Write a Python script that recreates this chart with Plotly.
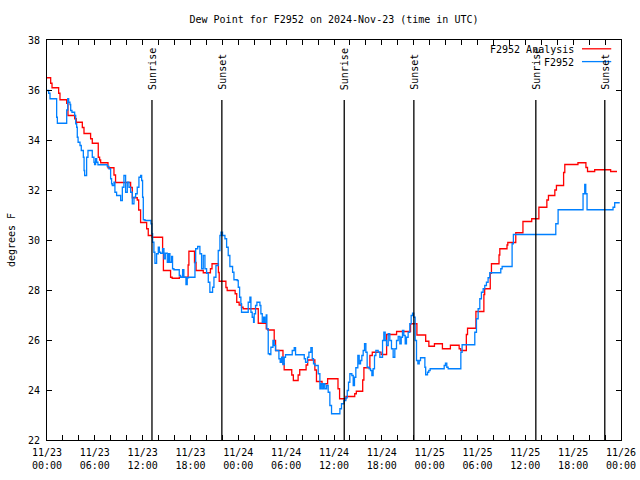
import pandas as pd
import plotly.graph_objects as go

START = pd.Timestamp("2024-11-23 00:00")

# F2952 Analysis (red) : hours since 11/23 00:00 UTC, dew point (F)
red_hours = [0.0, 0.46, 0.63, 1.46, 1.63, 2.47, 2.63, 3.47, 3.67, 4.43, 4.64, 5.47, 5.68, 6.43, 6.6,
             6.73, 7.65, 8.4, 8.6, 10.49, 10.7, 11.32, 11.5, 11.74, 12.5, 12.7, 13.2, 14.5, 14.6, 15.5,
             15.7, 16.6, 17.7, 17.8, 18.5, 18.7, 19.6, 20.5, 20.7, 21.5, 21.6, 22.44, 22.6, 23.6, 23.8,
             24.1, 24.4, 24.6, 26.5, 27.5, 27.7, 28.5, 28.67, 29.6, 29.75, 30.7, 30.9, 31.5, 31.7, 32.5,
             32.7, 33.6, 33.8, 34.5, 35.2, 36.5, 36.7, 37.5, 38.6, 38.8, 39.6, 39.75, 40.5, 40.8, 41.9,
             42.6, 43.85, 45.6, 46.4, 47.5, 47.9, 48.6, 49.6, 50.6, 51.7, 51.9, 52.6, 52.75, 53.8, 54.8,
             54.9, 55.6, 55.75, 56.7, 56.8, 57.7, 57.8, 58.8, 59.7, 60.8, 61.7, 62.7, 62.9, 63.7, 63.9,
             64.8, 64.95, 66.6, 67.6, 67.8, 68.7, 70.7, 71.5]
red_values = [36.49, 36.27, 36.09, 35.87, 35.61, 35.47, 34.98, 34.85, 34.71, 34.5, 34.26, 34.05, 33.87, 33.31, 33.2,
              33.09, 32.89, 32.6, 32.3, 32.1, 31.69, 31.6, 31.2, 30.7, 30.45, 30.18, 30.11, 29.5, 28.78, 28.51,
              28.47, 28.51, 29.0, 29.55, 29.1, 28.78, 28.69, 28.85, 29.05, 28.7, 28.35, 28.1, 27.98, 27.85, 27.51,
              27.4, 27.31, 27.25, 26.67, 26.45, 26.4, 25.98, 25.58, 25.05, 24.81, 24.6, 24.38, 24.6, 24.81, 25.0,
              25.2, 24.8, 24.34, 24.25, 24.45, 24.05, 23.65, 23.74, 23.85, 23.95, 24.4, 24.89, 25.38, 25.51, 25.42,
              26.22, 26.34, 26.65, 26.2, 25.95, 25.75, 25.85, 25.65, 25.79, 25.65, 25.58, 26.22, 26.47, 27.14, 27.82,
              28.05, 28.67, 29.05, 29.4, 29.65, 29.8, 29.9, 30.29, 30.74, 30.85, 31.31, 31.6, 31.78, 32.0, 32.18,
              32.7, 33.02, 33.09, 32.9, 32.74, 32.81, 32.74, 32.74]

# F2952 observations (blue)
blue_hours = [0.0, 0.21, 0.38, 1.21, 1.3, 2.47, 2.6, 2.72, 2.88, 2.97, 3.13, 3.47, 3.6, 3.72, 3.8, 3.9, 4.14,
              4.3, 4.56, 4.65, 4.72, 4.97, 5.14, 5.68, 5.89, 5.97, 6.1, 6.23, 6.39, 7.56, 7.77, 7.98, 8.1, 8.19,
              8.4, 8.52, 8.73, 9.24, 9.45, 9.65, 9.86, 10.07, 10.28, 10.49, 10.7, 10.91, 11.12, 11.32, 11.53,
              11.74, 11.87, 11.99, 12.08, 12.29, 13.04, 13.15, 13.25, 13.41, 13.54, 13.75, 13.96, 14.09, 14.25,
              14.5, 14.67, 14.84, 15.09, 15.26, 15.42, 15.63, 15.75, 15.92, 16.59, 16.76, 17.01, 17.17, 17.43,
              17.59, 17.76, 18.56, 18.65, 18.9, 19.18, 19.39, 19.6, 19.81, 20.02, 20.23, 20.43, 20.77, 20.94,
              21.19, 21.48, 21.69, 21.82, 22.02, 22.32, 22.53, 22.73, 22.94, 23.28, 23.45, 23.86, 23.99, 24.16,
              24.32, 24.4, 25.24, 25.45, 25.58, 25.74, 25.91, 25.99, 26.16, 26.33, 26.71, 26.83, 27.0, 27.17,
              27.33, 27.5, 27.58, 27.75, 27.92, 28.08, 28.34, 28.5, 28.67, 29.09, 29.25, 29.42, 29.59, 29.76,
              29.92, 30.76, 31.01, 31.18, 32.27, 32.43, 32.68, 32.85, 33.1, 33.27, 33.43, 33.6, 34.02, 34.23,
              34.35, 34.52, 34.69, 34.86, 35.07, 35.27, 35.48, 35.69, 36.74, 36.94, 37.24, 37.49, 37.66, 37.82,
              37.99, 38.24, 38.41, 38.57, 38.74, 38.99, 39.16, 39.33, 39.49, 39.66, 39.83, 40.0, 40.16, 40.41,
              40.58, 40.75, 40.91, 41.08, 41.25, 41.54, 41.75, 42.09, 42.25, 42.42, 42.59, 42.8, 43.0, 43.21,
              43.42, 43.63, 43.84, 44.05, 44.26, 44.43, 44.59, 44.76, 44.93, 45.09, 45.3, 45.51, 45.68, 45.85,
              46.01, 46.18, 46.35, 46.52, 46.69, 46.85, 47.4, 47.5, 47.73, 47.89, 48.06, 49.82, 49.98, 50.15,
              50.32, 51.91, 52.07, 53.66, 53.87, 54.08, 54.29, 54.49, 54.71, 54.91, 55.12, 55.33, 55.54, 56.92,
              57.09, 58.34, 58.5, 63.82, 64.11, 67.24, 67.45, 67.58, 67.74, 71.0, 71.21, 71.84]
blue_values = [35.98, 35.87, 35.65, 34.91, 34.67, 35.2, 35.65, 35.51, 35.42, 35.18, 35.11, 34.98, 34.65, 34.51, 34.11, 33.91, 33.78,
               33.58, 33.31, 32.78, 32.58, 33.31, 33.58, 33.31, 33.11, 33.02, 33.25, 33.11, 33.01, 32.94, 32.85, 32.45, 32.25, 32.18,
               32.31, 31.91, 31.78, 31.58, 32.11, 32.58, 31.91, 32.31, 32.11, 31.91, 31.45, 31.71, 31.85, 32.11, 32.51,
               32.58, 32.38, 31.71, 30.81, 30.78, 30.65, 30.25, 29.91, 29.51, 29.07, 29.45, 29.71, 29.51, 29.47,
               29.65, 29.25, 29.47, 29.11, 29.45, 29.11, 29.34, 28.85, 28.81, 28.58, 28.51, 28.81, 28.51, 28.22,
               28.49, 28.51, 29.1, 29.65, 29.74, 29.45, 28.85, 29.38, 28.85, 28.67, 28.31, 27.91, 28.11, 28.51,
               28.98, 29.58, 30.18, 30.31, 30.18, 30.05, 29.71, 29.38, 28.94, 28.71, 28.41, 28.38, 28.11, 27.71,
               27.45, 27.11, 27.51, 27.71, 27.11, 26.91, 26.71, 27.05, 27.38, 27.51, 27.38, 27.05, 26.71, 26.91,
               26.71, 27.0, 26.45, 25.45, 25.42, 25.71, 25.98, 25.78, 25.58, 25.25, 25.11, 25.31, 25.02, 25.31,
               25.41, 25.58, 25.69, 25.41, 25.25, 25.11, 25.31, 25.51, 25.69, 25.25, 25.05, 24.98, 24.65, 24.05,
               24.25, 24.05, 24.25, 24.05, 24.18, 23.91, 23.38, 23.05, 23.25, 23.45, 23.58, 23.69, 23.98, 24.31,
               24.65, 24.58, 24.18, 24.51, 24.89, 25.38, 25.05, 25.18, 25.38, 25.58, 25.85, 25.51, 24.91, 24.85,
               24.78, 24.58, 24.85, 25.38, 25.58, 25.51, 25.31, 25.98, 26.31, 25.98, 25.78, 26.25, 25.98, 25.65,
               25.31, 25.65, 25.98, 26.14, 25.85, 26.11, 26.38, 26.18, 25.85, 26.11, 26.31, 26.65, 26.98, 27.07,
               26.91, 25.98, 25.18, 25.05, 25.18, 25.29, 24.91, 24.61, 24.71, 24.78, 24.85, 24.98, 25.07, 24.91,
               24.85, 25.51, 25.81, 26.31, 26.85, 27.25, 27.65, 27.91, 28.05, 28.18, 28.31, 28.49, 28.69, 28.85,
               28.94, 29.85, 30.22, 30.65, 31.21, 31.85, 32.22, 31.85, 31.21, 31.31, 31.49, 31.49]

sun_labels = ["Sunrise", "Sunset", "Sunrise", "Sunset", "Sunrise", "Sunset"]
sun_times = ["2024-11-23 13:10", "2024-11-23 21:56", "2024-11-24 13:17",
             "2024-11-24 22:01", "2024-11-25 13:19", "2024-11-25 21:58"]

tick_times = ["2024-11-23 00:00", "2024-11-23 06:00", "2024-11-23 12:00", "2024-11-23 18:00",
              "2024-11-24 00:00", "2024-11-24 06:00", "2024-11-24 12:00", "2024-11-24 18:00",
              "2024-11-25 00:00", "2024-11-25 06:00", "2024-11-25 12:00", "2024-11-25 18:00",
              "2024-11-26 00:00"]
tick_labels = ["11/23<br>00:00", "11/23<br>06:00", "11/23<br>12:00", "11/23<br>18:00",
               "11/24<br>00:00", "11/24<br>06:00", "11/24<br>12:00", "11/24<br>18:00",
               "11/25<br>00:00", "11/25<br>06:00", "11/25<br>12:00", "11/25<br>18:00",
               "11/26<br>00:00"]

series_names = ["F2952 Analysis", "F2952"]
series_colors = ["#ff0000", "#0080ff"]

FONT = "DejaVu Sans Mono"

red_t = START + pd.to_timedelta(red_hours, unit="h")
blue_t = START + pd.to_timedelta(blue_hours, unit="h")

fig = go.Figure()
fig.add_trace(go.Scatter(x=red_t, y=red_values, mode="lines", line_shape="hv",
                         name=series_names[0], line=dict(color=series_colors[0], width=1.3)))
fig.add_trace(go.Scatter(x=blue_t, y=blue_values, mode="lines", line_shape="hv",
                         name=series_names[1], line=dict(color=series_colors[1], width=1.3)))

for lab, t in zip(sun_labels, sun_times):
    fig.add_shape(type="line", xref="x", yref="paper", x0=t, x1=t, y0=0, y1=0.85,
                  line=dict(color="black", width=1.3))
    fig.add_annotation(x=t, xref="x", y=0.87, yref="paper", text=lab, textangle=-90,
                       showarrow=False, xanchor="center", yanchor="bottom",
                       font=dict(family=FONT, size=10, color="black"))

# legend drawn gnuplot-style: text then sample line
legend_y = [0.976, 0.944]
for name, col, ly in zip(series_names, series_colors, legend_y):
    fig.add_annotation(x=0.921, xref="paper", y=ly, yref="paper", text=name, showarrow=False,
                       xanchor="right", yanchor="middle", font=dict(family=FONT, size=10, color="black"))
    fig.add_shape(type="line", xref="paper", yref="paper", x0=0.932, x1=0.983, y0=ly + 0.002, y1=ly + 0.002,
                  line=dict(color=col, width=1.3))

fig.update_layout(
    width=640, height=480,
    margin=dict(l=47, r=19, t=40, b=40, autoexpand=False),
    paper_bgcolor="white", plot_bgcolor="white",
    showlegend=False,
    font=dict(family=FONT, size=10, color="black"),
    title=dict(text="Dew Point for F2952 on 2024-Nov-23 (time in UTC)", x=0.5, xref="paper",
               y=1 - 19 / 480, yref="container", xanchor="center", yanchor="middle",
               font=dict(family=FONT, size=10, color="black")),
)
fig.update_xaxes(type="date", range=[tick_times[0], tick_times[-1]], automargin=False,
                 tickvals=tick_times, ticktext=tick_labels, ticklabelstandoff=3,
                 showline=True, linecolor="black", linewidth=1, mirror="ticks",
                 ticks="inside", ticklen=5, tickcolor="black", showgrid=False, zeroline=False,
                 minor=dict(dtick=2 * 3600 * 1000, ticks="inside", ticklen=5, tickcolor="black", showgrid=False),
                 tickfont=dict(family=FONT, size=10, color="black"))
fig.update_yaxes(range=[22, 38], dtick=2, tick0=22, automargin=False, ticklabelstandoff=4,
                 showline=True, linecolor="black", linewidth=1, mirror="ticks",
                 ticks="inside", ticklen=5, tickcolor="black", showgrid=False, zeroline=False,
                 tickfont=dict(family=FONT, size=10, color="black"),
                 title=dict(text="degrees F", standoff=10, font=dict(family=FONT, size=10, color="black")))

fig.write_html("out.html", config={"displayModeBar": False},
               post_script="document.body.style.margin='0';document.body.style.overflow='hidden';")
